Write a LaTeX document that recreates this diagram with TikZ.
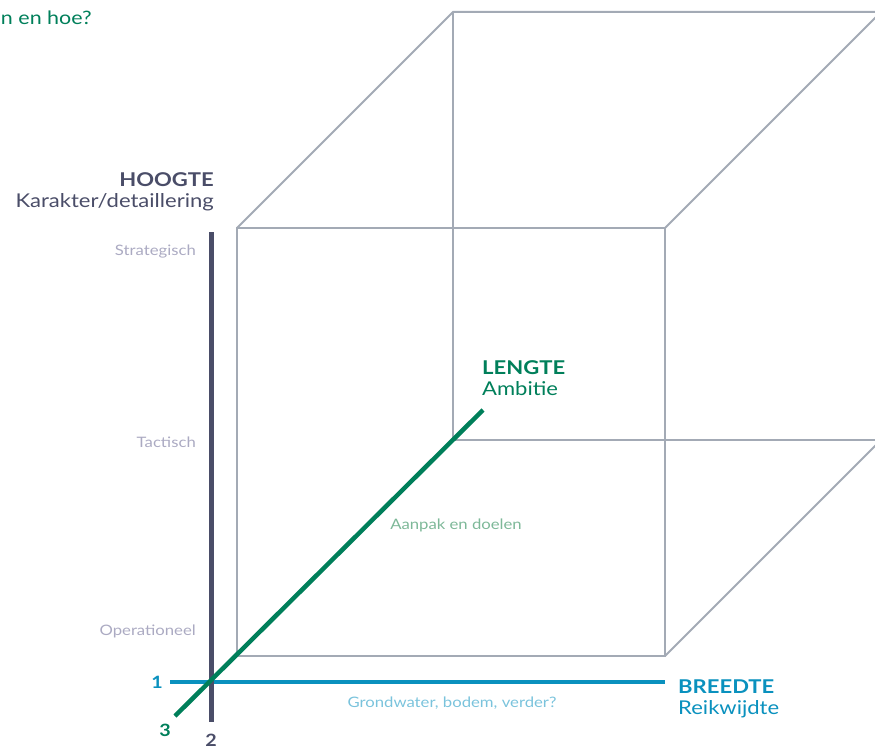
\documentclass[tikz,border=0pt]{standalone}
\usepackage{fontspec}
\setmainfont{Lato}[FakeStretch=1.16]
\definecolor{cubegray}{HTML}{A3AAB5}
\definecolor{darkax}{HTML}{4A4D68}
\definecolor{blueax}{HTML}{0A91BE}
\definecolor{greenax}{HTML}{007F5A}
\definecolor{lightlab}{HTML}{ABAAC2}
\definecolor{lightgreen}{HTML}{7DB898}
\definecolor{lightblue}{HTML}{7AC3DC}
\tikzset{
  cube/.style={draw=cubegray, line width=2pt},
  bigtxt/.style={font=\fontsize{19}{21}\selectfont, inner sep=0pt, align=left},
  smalltxt/.style={font=\fontsize{14.4}{16}\selectfont, inner sep=0pt},
  numtxt/.style={font=\fontsize{17}{19}\selectfont\bfseries, inner sep=0pt},
}
\begin{document}
\begin{tikzpicture}[x=1pt,y=-1pt]
\useasboundingbox (0,0) rectangle (875,749);
\clip (0,0) rectangle (875,749);
% cube corners
\coordinate (ftl) at (237,228);
\coordinate (ftr) at (665,228);
\coordinate (fbl) at (237,656);
\coordinate (fbr) at (665,656);
\coordinate (btl) at (453,12);
\coordinate (btr) at (881,12);
\coordinate (bbl) at (453,440);
\coordinate (bbr) at (881,440);
% cube
\draw[cube] (ftl) rectangle (fbr);
\draw[cube] (ftl) -- (btl) -- (btr);
\draw[cube] (ftr) -- (btr);
\draw[cube] (btl) -- (bbl) -- (bbr);
\draw[cube] (fbr) -- (bbr);
% axes
\coordinate (vtop) at (211,232);
\coordinate (vbot) at (211,722);
\coordinate (hl) at (170,682);
\coordinate (hr) at (665,682);
\coordinate (gl) at (175,716);
\coordinate (gr) at (483,410);
\draw[blueax, line width=4.5pt] (hl) -- (hr);
\draw[darkax, line width=5pt] (vtop) -- (vbot);
\draw[greenax, line width=4.5pt] (gl) -- (gr);
% labels
\node[anchor=east, text=greenax, font=\fontsize{18.5}{20}\selectfont, inner sep=0pt] (top) at (92,18) {n en hoe?};
\node[bigtxt, anchor=north east, align=right, text=darkax] (hoogte) at (214,172) {\textbf{HOOGTE}\\Karakter/detaillering};
\node[smalltxt, anchor=east, text=lightlab] (strat) at (196,252) {Strategisch};
\node[smalltxt, anchor=east, text=lightlab] (tact) at (196,442) {Tactisch};
\node[smalltxt, anchor=east, text=lightlab] (oper) at (196,631) {Operationeel};
\node[bigtxt, anchor=north west, text=greenax] (lengte) at (482,360) {\textbf{LENGTE}\\Ambitie};
\node[smalltxt, text=lightgreen] (aanpak) at (456,525) {Aanpak en doelen};
\node[bigtxt, anchor=north west, text=blueax] (breedte) at (678,680) {\textbf{BREEDTE}\\Reikwijdte};
\node[smalltxt, text=lightblue] (grond) at (452,703) {Grondwater, bodem, verder?};
\node[numtxt, text=blueax] (n1) at (157,682) {1};
\node[numtxt, text=darkax, anchor=south] (n2) at (211,747) {2};
\node[numtxt, text=greenax] (n3) at (165,730) {3};
\end{tikzpicture}
\end{document}
